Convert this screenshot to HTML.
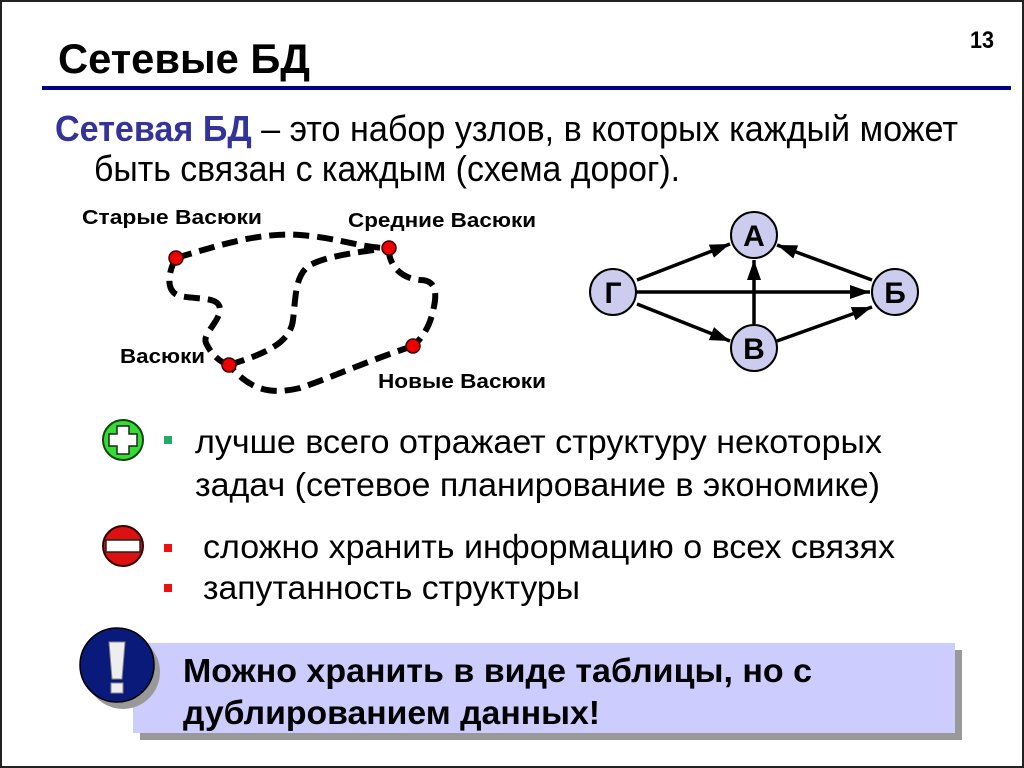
<!DOCTYPE html>
<html><head><meta charset="utf-8"><style>
html,body{margin:0;padding:0;background:#fff}
svg{display:block}
text{font-family:"Liberation Sans",sans-serif}
</style></head><body>
<svg width="1024" height="768" viewBox="0 0 1024 768" xmlns="http://www.w3.org/2000/svg">
<defs>
<marker id="a2" viewBox="0 0 20 14" refX="20" refY="7" markerWidth="20" markerHeight="14" orient="auto" markerUnits="userSpaceOnUse">
<path d="M0,0 L20,7 L0,14 z" fill="#000"/>
</marker>
</defs>
<rect x="1" y="1" width="1022" height="766" fill="#fff" stroke="#222" stroke-width="2"/>
<text x="58" y="73" font-size="42" font-weight="bold" textLength="252" lengthAdjust="spacingAndGlyphs">Сетевые БД</text>
<text x="970" y="48" font-size="24" font-weight="bold" textLength="24" lengthAdjust="spacingAndGlyphs">13</text>
<rect x="42" y="86" width="969" height="4" fill="#000080"/>
<text x="55" y="141" font-size="36" textLength="903" lengthAdjust="spacingAndGlyphs"><tspan fill="#333399" font-weight="bold">Сетевая БД</tspan> – это набор узлов, в которых каждый может</text>
<text x="94" y="181" font-size="36" textLength="586" lengthAdjust="spacingAndGlyphs">быть связан с каждым (схема дорог).</text>

<!-- map -->
<g fill="none" stroke="#000" stroke-width="6" stroke-dasharray="16 8">
<path d="M176,258 C220,245 260,232 300,235 C340,238 360,248 389,248"/>
<path d="M176,258 C168,272 165,292 180,296 C200,300 220,296 220,310 C218,325 200,335 207,345 C212,355 220,362 229,365"/>
<path d="M229,365 C260,355 290,345 293,320 C296,295 295,275 310,265 C330,255 360,252 389,248"/>
<path d="M389,248 C388,262 398,278 420,280 C440,280 436,300 432,315 C428,330 420,340 413,346"/>
<path d="M413,346 C370,360 330,378 300,388 C270,395 250,390 229,365"/>
</g>
<g fill="#e00" stroke="#300" stroke-width="1.5">
<circle cx="176" cy="258" r="7"/><circle cx="389" cy="248" r="7"/>
<circle cx="229" cy="365" r="7"/><circle cx="413" cy="346" r="7"/>
</g>
<g font-size="20" font-weight="bold">
<text x="82" y="224" textLength="180" lengthAdjust="spacingAndGlyphs">Старые Васюки</text>
<text x="348" y="227" textLength="188" lengthAdjust="spacingAndGlyphs">Средние Васюки</text>
<text x="120" y="363" textLength="85" lengthAdjust="spacingAndGlyphs">Васюки</text>
<text x="378" y="388" textLength="168" lengthAdjust="spacingAndGlyphs">Новые Васюки</text>
</g>

<!-- graph -->
<g stroke="#000" stroke-width="3.5" marker-end="url(#a2)">
<line x1="637" y1="280" x2="730" y2="244"/>
<line x1="637" y1="292" x2="870" y2="292"/>
<line x1="637" y1="304" x2="730" y2="341"/>
<line x1="754" y1="324" x2="754" y2="260"/>
<line x1="777" y1="341" x2="872" y2="307"/>
<line x1="872" y1="280" x2="777" y2="245"/>
</g>
<g fill="#ccccee" stroke="#000" stroke-width="2">
<circle cx="754" cy="235" r="23"/><circle cx="613" cy="292" r="23"/>
<circle cx="895" cy="292" r="23"/><circle cx="754" cy="348" r="23"/>
</g>
<g font-size="30" font-weight="bold" text-anchor="middle">
<text x="754" y="246">А</text><text x="613" y="303">Г</text>
<text x="895" y="303">Б</text><text x="754" y="359">В</text>
</g>

<!-- plus icon -->
<circle cx="123" cy="440" r="20" fill="#33dd33" stroke="#114411" stroke-width="2"/>
<path d="M117,426 h12 v8 h8 v12 h-8 v8 h-12 v-8 h-8 v-12 h8 z" fill="#fff" stroke="#222" stroke-width="1.5"/>
<rect x="164" y="436" width="8" height="8" fill="#22aa66"/>
<text x="195" y="453" font-size="33" textLength="687" lengthAdjust="spacingAndGlyphs">лучше всего отражает структуру некоторых</text>
<text x="195" y="496" font-size="33" textLength="685" lengthAdjust="spacingAndGlyphs">задач (сетевое планирование в экономике)</text>

<!-- minus icon -->
<circle cx="123" cy="546" r="20" fill="#dd1111" stroke="#330000" stroke-width="2"/>
<rect x="106" y="540" width="34" height="12" fill="#fff" stroke="#222" stroke-width="1.5"/>
<rect x="164" y="544" width="8" height="8" fill="#ee1111"/>
<rect x="164" y="584" width="8" height="8" fill="#ee1111"/>
<text x="203" y="558" font-size="33" textLength="692" lengthAdjust="spacingAndGlyphs">сложно хранить информацию о всех связях</text>
<text x="203" y="599" font-size="33" textLength="377" lengthAdjust="spacingAndGlyphs">запутанность структуры</text>

<!-- box -->
<rect x="140" y="650" width="822" height="90" fill="#999"/>
<rect x="133" y="643" width="822" height="90" fill="#ccccff"/>
<circle cx="123" cy="672" r="37" fill="#999"/>
<circle cx="117" cy="665" r="37" fill="#0a1a7a" stroke="#000" stroke-width="1.5"/>
<path d="M109,642 h16 l-3,37 h-10 z" fill="#eee" stroke="#888"/>
<rect x="111" y="683" width="12" height="10" fill="#eee" stroke="#888"/>
<text x="183" y="682" font-size="33" font-weight="bold" textLength="629" lengthAdjust="spacingAndGlyphs">Можно хранить в виде таблицы, но с</text>
<text x="183" y="724" font-size="33" font-weight="bold" textLength="417" lengthAdjust="spacingAndGlyphs">дублированием данных!</text>
</svg>
</body></html>
